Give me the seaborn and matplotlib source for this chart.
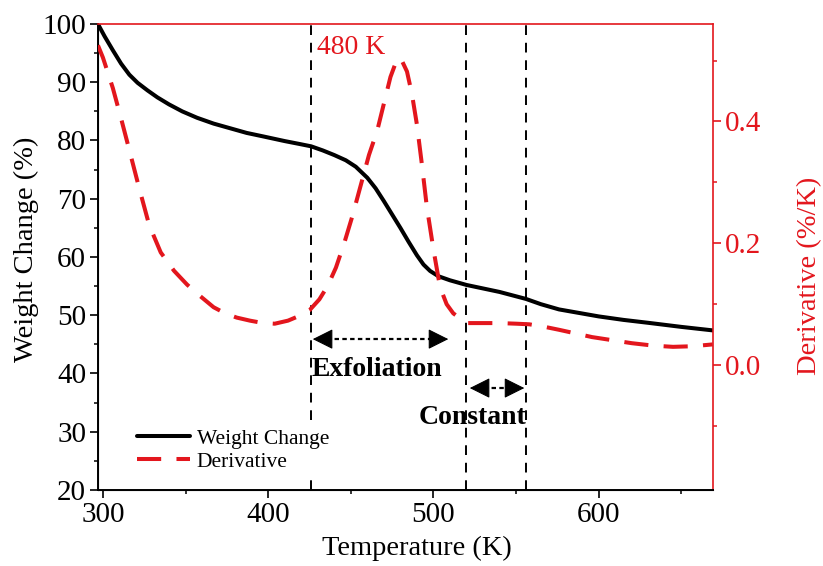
import matplotlib
matplotlib.use("Agg")
import matplotlib.pyplot as plt
from matplotlib.ticker import MultipleLocator, FixedLocator, FormatStrFormatter
import seaborn as sns

# TGA weight curve (K, %)
temp_w = [297, 301, 306, 311, 316, 321, 327, 333, 340, 348, 357, 367, 377, 387,
          397, 410, 419, 426, 433, 440, 447, 453, 460, 465, 470, 475, 480, 485,
          490, 494, 498, 503, 510, 520, 530, 540, 548, 556, 565, 576, 588, 600,
          615, 630, 650, 669]
weight = [100, 97.9, 95.5, 93.2, 91.3, 89.9, 88.6, 87.4, 86.2, 85.0, 83.9, 82.9,
          82.1, 81.3, 80.7, 79.9, 79.4, 79.0, 78.3, 77.5, 76.6, 75.5, 73.6, 71.8,
          69.6, 67.3, 65.0, 62.6, 60.3, 58.7, 57.6, 56.7, 56.0, 55.2, 54.6, 54.0,
          53.4, 52.8, 51.9, 51.0, 50.4, 49.8, 49.2, 48.7, 48.0, 47.4]

# derivative curve (K, %/K)
temp_d = [297, 300, 303, 306, 311, 316, 322, 328, 335, 343, 351, 359, 367, 374,
          381, 389, 397, 404, 412, 419, 425, 431, 436, 441, 446, 451, 456, 461,
          466, 471, 474, 477, 480, 484, 487, 490, 493, 496, 500, 504, 508, 512,
          520, 530, 540, 550, 558, 567, 576, 586, 596, 608, 620, 633, 645, 657,
          669]
deriv = [0.525, 0.505, 0.48, 0.455, 0.405, 0.353, 0.29, 0.23, 0.185, 0.155,
         0.132, 0.113, 0.095, 0.085, 0.078, 0.073, 0.069, 0.068, 0.073, 0.081,
         0.09, 0.108, 0.13, 0.16, 0.2, 0.245, 0.295, 0.345, 0.385, 0.44, 0.473,
         0.495, 0.505, 0.482, 0.445, 0.395, 0.33, 0.26, 0.19, 0.128, 0.1, 0.085,
         0.069, 0.069, 0.069, 0.068, 0.067, 0.063, 0.058, 0.052, 0.046, 0.041,
         0.036, 0.032, 0.03, 0.031, 0.034]

region_bounds = [426, 520, 556]
peak_temp = 480
x_ticks = [300, 400, 500, 600]
deriv_ticks = [0.0, 0.2, 0.4]

RED = "#e3161d"
BLACK = "black"

sns.set_style("ticks")
plt.rcParams["font.family"] = ["Liberation Serif", "DejaVu Serif"]
plt.rcParams.update({"text.color": BLACK, "axes.labelcolor": BLACK,
                     "xtick.color": BLACK, "ytick.color": BLACK,
                     "axes.edgecolor": BLACK})

fig = plt.figure(figsize=(8.23, 5.66), dpi=100)
ax = fig.add_axes([0.119, 0.1343, 0.747, 0.8233])
ax2 = ax.twinx()

# region boundaries
for xb in region_bounds:
    ax.axvline(xb, color=BLACK, lw=1.4, linestyle=(0, (5, 4)), zorder=1)

sns.lineplot(x=temp_w, y=weight, ax=ax, color=BLACK, lw=2.9, zorder=3)
weight_line = ax.lines[-1]
sns.lineplot(x=temp_d, y=deriv, ax=ax2, color=RED, lw=2.9, zorder=3)
deriv_line = ax2.lines[-1]
deriv_line.set_dashes((6, 3.8))

ax.set_xlim(297, 669)
ax.set_ylim(20, 100)
ax2.set_ylim(-0.205, 0.56)

ax.xaxis.set_major_locator(FixedLocator(x_ticks))
ax.xaxis.set_minor_locator(MultipleLocator(50))
ax.yaxis.set_major_locator(MultipleLocator(10))
ax.yaxis.set_minor_locator(MultipleLocator(5))
ax2.yaxis.set_major_locator(FixedLocator(deriv_ticks))
ax2.yaxis.set_minor_locator(FixedLocator([-0.1, 0.1, 0.3, 0.5]))
ax2.yaxis.set_major_formatter(FormatStrFormatter("%.1f"))

ax.tick_params(which="major", direction="out", length=5.5, width=1.2,
               labelsize=21, pad=3, color=BLACK, labelcolor=BLACK)
ax.tick_params(which="minor", direction="out", length=3.2, width=1.1, color=BLACK)
ax2.tick_params(axis="y", which="major", direction="out", length=5.5, width=1.2,
                labelsize=21, pad=3, color=RED, labelcolor=RED)
ax2.tick_params(axis="y", which="minor", direction="out", length=3.2, width=1.1,
                color=RED)

for a in (ax, ax2):
    for side in ("left", "right", "top", "bottom"):
        a.spines[side].set_visible(True)
ax.spines["right"].set_visible(False)
ax.spines["top"].set_visible(False)
ax2.spines["left"].set_color(BLACK)
ax2.spines["bottom"].set_color(BLACK)
ax2.spines["right"].set_color(RED)
ax2.spines["top"].set_color(RED)
for side in ("left", "bottom"):
    ax2.spines[side].set_linewidth(1.4)
for side in ("right", "top"):
    ax2.spines[side].set_linewidth(1.2)

ax.set_xlabel("Temperature (K)", fontsize=20.5, color=BLACK)
ax.set_ylabel("Weight Change (%)", fontsize=20.5, color=BLACK)
ax2.set_ylabel("Derivative (%/K)", fontsize=20.5, color=RED)
ax.xaxis.set_label_coords(0.519, -0.099)
ax.yaxis.set_label_coords(-0.096, 0.517)
ax2.yaxis.set_label_coords(1.1366, 0.459)

# annotations
ax.text(429.5, 95.9, f"{peak_temp} K", color=RED, fontsize=20, va="center", ha="left")


def span_arrow(x0, x1, y):
    """Dotted double-headed arrow with solid filled heads."""
    ax.plot([x0 + 4, x1 - 4], [y, y], color=BLACK, lw=1.6,
            linestyle=(0, (2, 1.5)), zorder=4)
    head = dict(arrowstyle="-|>,head_length=0.8,head_width=0.4", lw=0.8,
                color=BLACK, mutation_scale=16, shrinkA=0, shrinkB=0)
    ax.annotate("", xy=(x0, y), xytext=(x0 + 9, y), arrowprops=head, zorder=5)
    ax.annotate("", xy=(x1, y), xytext=(x1 - 9, y), arrowprops=head, zorder=5)


span_arrow(427, 509, 45.9)
ax.text(466, 40.6, "Exfoliation", fontsize=20, fontweight="bold",
        ha="center", va="center", color=BLACK)
span_arrow(522, 555, 37.5)
ax.text(523.6, 32.5, "Constant", fontsize=20, fontweight="bold",
        ha="center", va="center", color=BLACK)

leg = ax2.legend([weight_line, deriv_line], ["Weight Change", "Derivative"],
                 loc="lower left", bbox_to_anchor=(0.06, 0.034), fontsize=15.5,
                 handlelength=2.45, handletextpad=0.32, labelspacing=0.15,
                 borderpad=0.1, borderaxespad=0, frameon=True, fancybox=False)
leg.get_frame().set_facecolor("white")
leg.get_frame().set_edgecolor("none")
leg.get_frame().set_alpha(1)
for t in leg.get_texts():
    t.set_color(BLACK)

fig.savefig("out.png", dpi=100)
